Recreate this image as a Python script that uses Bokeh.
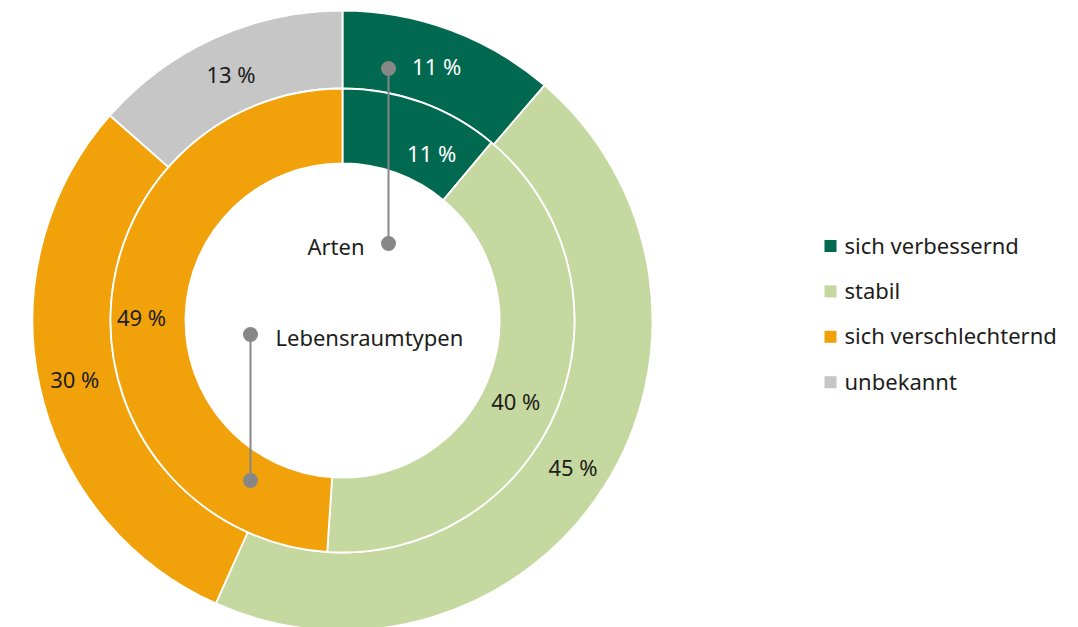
import math
from bokeh.plotting import figure
from bokeh.models import Range1d, ColumnDataSource
from bokeh.core.properties import value
from bokeh.embed import file_html
from bokeh.resources import INLINE

# ---- data ----
categories = ["sich verbessernd", "stabil", "sich verschlechternd", "unbekannt"]
colors = ["#00694f", "#c5d89f", "#f1a20b", "#c6c6c6"]
arten_values = [11.3, 45.4, 29.8, 13.5]          # outer ring (Arten)
arten_labels = ["11 %", "45 %", "30 %", "13 %"]
lrt_values = [11.1, 39.95, 48.95]                # inner ring (Lebensraumtypen)
lrt_labels = ["11 %", "40 %", "49 %"]
label_colors = ["white", "#1d1d1b", "#1d1d1b", "#1d1d1b"]

# ---- layout constants ----
W, H = 1078, 627
CX, CY = 342, -320
R_OUT_O, R_OUT_I = 310, 232
R_IN_O, R_IN_I = 232, 157
TXT = "#1d1d1b"
FONT = value("Noto Sans")
FS = "22px"

p = figure(width=W, height=H, output_backend="svg", toolbar_location=None,
           x_range=Range1d(0, W), y_range=Range1d(-H, 0),
           x_axis_type=None, y_axis_type=None, min_border=0,
           outline_line_color=None)
p.grid.visible = False
p.background_fill_color = "white"
p.border_fill_color = "white"


def ring(vals, labels, r_in, r_out, label_r, label_shift):
    n = len(vals)
    tot = sum(vals)
    starts, ends, cum = [], [], 0.0
    lx, ly = [], []
    for i, v in enumerate(vals):
        a0 = cum / tot
        a1 = (cum + v) / tot
        cum += v
        starts.append(math.pi / 2 - a1 * 2 * math.pi)
        ends.append(math.pi / 2 - a0 * 2 * math.pi)
        mid = (a0 + a1) / 2 * 2 * math.pi + math.radians(label_shift[i])
        lx.append(CX + label_r[i] * math.sin(mid))
        ly.append(CY + label_r[i] * math.cos(mid))
    src = ColumnDataSource(dict(s=starts, e=ends, c=colors[:n]))
    p.annular_wedge(x=CX, y=CY, inner_radius=r_in, outer_radius=r_out,
                    start_angle="s", end_angle="e", color="c",
                    line_color="white", line_width=1.8, source=src)
    tsrc = ColumnDataSource(dict(x=lx, y=ly, t=labels, c=label_colors[:n]))
    p.text(x="x", y="y", text="t", text_color="c", source=tsrc,
           text_font=FONT, text_font_size=FS,
           text_align="center", text_baseline="middle")


ring(arten_values, arten_labels, R_OUT_I, R_OUT_O,
     [271, 273, 274, 271], [0, 0, 0, 0])
ring(lrt_values, lrt_labels, R_IN_I, R_IN_O,
     [190, 191, 201], [8, 3, -0.8])

# ---- annotations ----
p.segment(x0=[388, 250], y0=[-68, -334], x1=[388, 250], y1=[-243, -480],
          line_color="#878787", line_width=2)
p.scatter(x=[388, 388, 250, 250], y=[-68, -243, -334, -480], size=15,
          marker="circle", fill_color="#878787", line_color=None)
p.text(x=[364], y=[-245], text=["Arten"], text_font=FONT,
       text_font_size=FS, text_color=TXT, text_align="right",
       text_baseline="middle")
p.text(x=[275], y=[-336], text=["Lebensraumtypen"], text_font=FONT,
       text_font_size=FS, text_color=TXT, text_align="left",
       text_baseline="middle")

# ---- legend ----
n = len(categories)
ly = [-(245.5 + 45.4 * i) for i in range(n)]
lsrc = ColumnDataSource(dict(x=[830] * n, y=ly, tx=[844] * n,
                             ty=[v + 1.5 for v in ly], t=categories, c=colors))
p.scatter(x="x", y="y", marker="square", size=12, fill_color="c",
          line_color=None, source=lsrc)
p.text(x="tx", y="ty", text="t", text_font=FONT, text_font_size=FS,
       text_color=TXT, text_align="left", text_baseline="middle", source=lsrc)

open("out.html", "w").write(file_html(p, INLINE))
